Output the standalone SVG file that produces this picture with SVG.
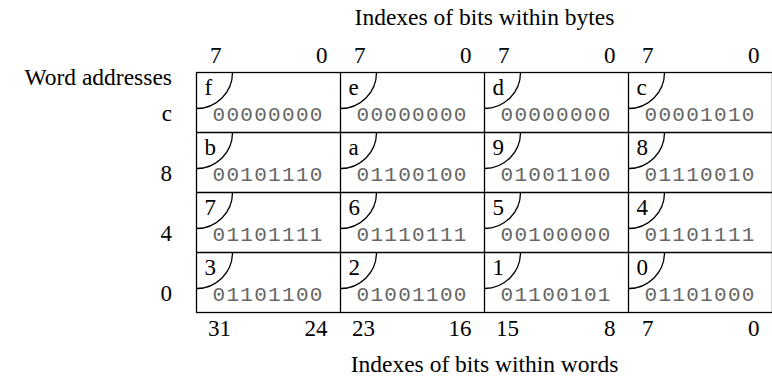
<svg xmlns="http://www.w3.org/2000/svg" width="772" height="376" viewBox="0 0 772 376">
<style>
.s{font-family:"Liberation Serif","Times New Roman",serif;font-size:23px;fill:#000}
.t{font-size:23.5px}
.e{text-anchor:end}
.m{text-anchor:middle}
.b{font-family:"Liberation Mono","Courier New",monospace;font-size:21px;letter-spacing:1.3px;fill:#666}
.ln{fill:none;stroke:#000;stroke-width:1.3}
</style>
<defs>
<path id="arc" d="M36,0 A36,36 0 0 1 0,36" class="ln"/>
</defs>
<rect width="772" height="376" fill="#fff"/>
<text class="s t m" x="484.5" y="25">Indexes of bits within bytes</text>
<g id="topidx">
<text class="s" x="210" y="63">7</text><text class="s e" x="327.5" y="63">0</text>
<text class="s" x="354" y="63">7</text><text class="s e" x="471.5" y="63">0</text>
<text class="s" x="498" y="63">7</text><text class="s e" x="615.5" y="63">0</text>
<text class="s" x="642" y="63">7</text><text class="s e" x="759.5" y="63">0</text>
</g>
<text class="s t e" x="172" y="85">Word addresses</text>
<g id="rowlabels">
<text class="s e" x="172" y="121">c</text>
<text class="s e" x="172" y="181">8</text>
<text class="s e" x="172" y="241">4</text>
<text class="s e" x="172" y="301">0</text>
</g>
<g id="grid">
<rect class="ln" x="196.5" y="72.5" width="576" height="240"/>
<path class="ln" d="M196.5,132.5H772.5M196.5,192.5H772.5M196.5,252.5H772.5M340.5,72.5V312.5M484.5,72.5V312.5M628.5,72.5V312.5"/>
</g>
<g id="cell-f" transform="translate(196.5,72.5)"><use href="#arc"/><text class="s" x="8" y="22">f</text><text class="b" x="16" y="48">00000000</text></g>
<g id="cell-e" transform="translate(340.5,72.5)"><use href="#arc"/><text class="s" x="8" y="22">e</text><text class="b" x="16" y="48">00000000</text></g>
<g id="cell-d" transform="translate(484.5,72.5)"><use href="#arc"/><text class="s" x="8" y="22">d</text><text class="b" x="16" y="48">00000000</text></g>
<g id="cell-c" transform="translate(628.5,72.5)"><use href="#arc"/><text class="s" x="8" y="22">c</text><text class="b" x="16" y="48">00001010</text></g>
<g id="cell-b" transform="translate(196.5,132.5)"><use href="#arc"/><text class="s" x="8" y="22">b</text><text class="b" x="16" y="48">00101110</text></g>
<g id="cell-a" transform="translate(340.5,132.5)"><use href="#arc"/><text class="s" x="8" y="22">a</text><text class="b" x="16" y="48">01100100</text></g>
<g id="cell-9" transform="translate(484.5,132.5)"><use href="#arc"/><text class="s" x="8" y="22">9</text><text class="b" x="16" y="48">01001100</text></g>
<g id="cell-8" transform="translate(628.5,132.5)"><use href="#arc"/><text class="s" x="8" y="22">8</text><text class="b" x="16" y="48">01110010</text></g>
<g id="cell-7" transform="translate(196.5,192.5)"><use href="#arc"/><text class="s" x="8" y="22">7</text><text class="b" x="16" y="48">01101111</text></g>
<g id="cell-6" transform="translate(340.5,192.5)"><use href="#arc"/><text class="s" x="8" y="22">6</text><text class="b" x="16" y="48">01110111</text></g>
<g id="cell-5" transform="translate(484.5,192.5)"><use href="#arc"/><text class="s" x="8" y="22">5</text><text class="b" x="16" y="48">00100000</text></g>
<g id="cell-4" transform="translate(628.5,192.5)"><use href="#arc"/><text class="s" x="8" y="22">4</text><text class="b" x="16" y="48">01101111</text></g>
<g id="cell-3" transform="translate(196.5,252.5)"><use href="#arc"/><text class="s" x="8" y="22">3</text><text class="b" x="16" y="48">01101100</text></g>
<g id="cell-2" transform="translate(340.5,252.5)"><use href="#arc"/><text class="s" x="8" y="22">2</text><text class="b" x="16" y="48">01001100</text></g>
<g id="cell-1" transform="translate(484.5,252.5)"><use href="#arc"/><text class="s" x="8" y="22">1</text><text class="b" x="16" y="48">01100101</text></g>
<g id="cell-0" transform="translate(628.5,252.5)"><use href="#arc"/><text class="s" x="8" y="22">0</text><text class="b" x="16" y="48">01101000</text></g>
<g id="botidx">
<text class="s" x="208" y="336">31</text><text class="s e" x="327.5" y="336">24</text>
<text class="s" x="352" y="336">23</text><text class="s e" x="471.5" y="336">16</text>
<text class="s" x="496" y="336">15</text><text class="s e" x="615.5" y="336">8</text>
<text class="s" x="642" y="336">7</text><text class="s e" x="759.5" y="336">0</text>
</g>
<text class="s t m" x="484.5" y="372">Indexes of bits within words</text>
</svg>
